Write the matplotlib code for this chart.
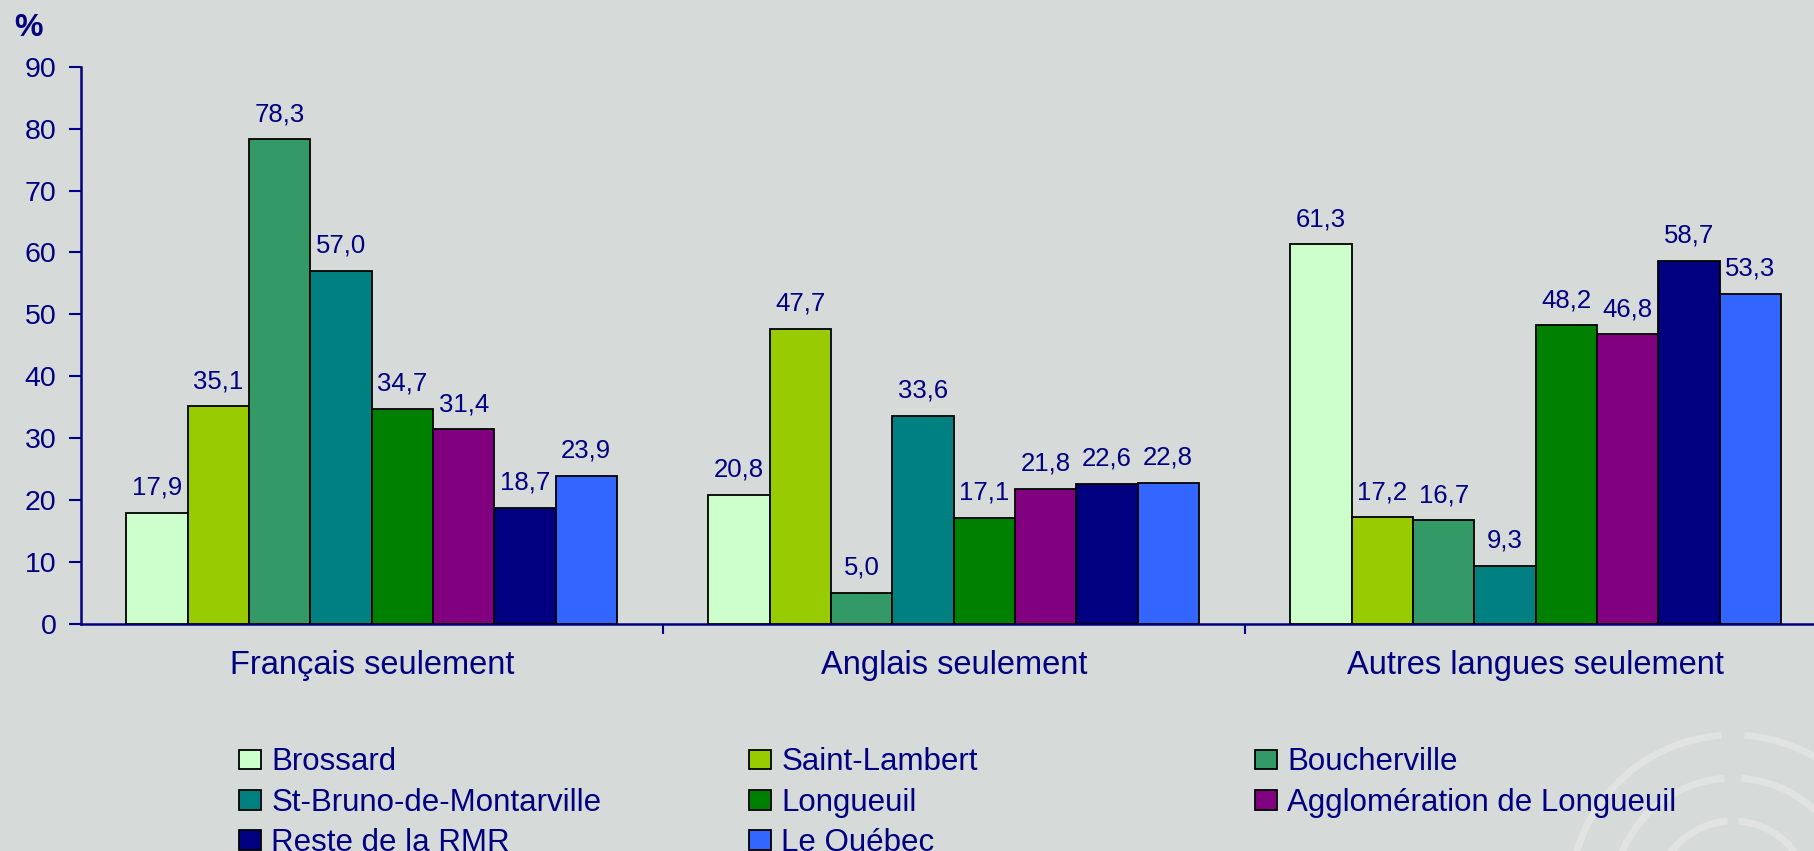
import numpy as np
import matplotlib
matplotlib.use("Agg")
import matplotlib.pyplot as plt
from matplotlib.patches import Arc
from matplotlib.transforms import IdentityTransform

plt.rcParams['font.family'] = ['Liberation Sans', 'DejaVu Sans']

categories = ["Français seulement", "Anglais seulement", "Autres langues seulement"]
series_names = ["Brossard", "Saint-Lambert", "Boucherville", "St-Bruno-de-Montarville",
                "Longueuil", "Agglomération de Longueuil", "Reste de la RMR", "Le Québec"]
brossard = [17.9, 20.8, 61.3]
saint_lambert = [35.1, 47.7, 17.2]
boucherville = [78.3, 5.0, 16.7]
st_bruno = [57.0, 33.6, 9.3]
longueuil = [34.7, 17.1, 48.2]
agglo = [31.4, 21.8, 46.8]
reste_rmr = [18.7, 22.6, 58.7]
quebec = [23.9, 22.8, 53.3]
series_values = [brossard, saint_lambert, boucherville, st_bruno,
                 longueuil, agglo, reste_rmr, quebec]
colors = ["#CCFFCC", "#99CC00", "#339966", "#008080",
          "#008000", "#800080", "#000080", "#3366FF"]
yticks = [0, 10, 20, 30, 40, 50, 60, 70, 80, 90]

BG = "#D6DAD9"
NAVY = "#000080"
W, H, DPI = 1815, 851, 100

fig = plt.figure(figsize=(W / DPI, H / DPI), dpi=DPI, facecolor=BG)

# faint background arcs (decoration)
for r in [163, 120, 77]:
    for t1, t2 in [(15, 86), (94, 175)]:
        fig.patches.append(Arc((1733, -47), 2 * r, 2 * r, theta1=t1, theta2=t2,
                               transform=IdentityTransform(), color="#E0E3E2",
                               lw=5, zorder=0))

left_px, right_px = 80.7, 1815
zero_px, top_px = 623.5, 67
ax = fig.add_axes([left_px / W, (H - zero_px) / H,
                   (right_px - left_px) / W, (zero_px - top_px) / H])
ax.set_facecolor(BG)
ax.patch.set_alpha(0)

group_w_px = 582
n = len(series_names)
bw = 61.3 / group_w_px
x = np.arange(len(categories))
offsets = (np.arange(n) - (n - 1) / 2) * bw

handles = []
for i, (name, vals, c) in enumerate(zip(series_names, series_values, colors)):
    bars = ax.bar(x + offsets[i], vals, width=bw, color=c, edgecolor="black",
                  linewidth=1.3, label=name, zorder=3)
    handles.append(bars)
    for xi, v in zip(x + offsets[i], vals):
        ax.annotate(f"{v:.1f}".replace(".", ","), (xi, v), xytext=(0, 13),
                    textcoords="offset points", ha="center", va="baseline",
                    fontsize=18.5, color=NAVY)

ax.set_xlim(-0.5, -0.5 + (right_px - left_px) / group_w_px)
ax.set_ylim(0, 90)
ax.set_yticks(yticks)
ax.set_yticklabels([str(t) for t in yticks])
ax.tick_params(axis="y", direction="out", length=8.6, width=1.5, color=NAVY,
               labelcolor=NAVY, labelsize=20.5, pad=9)

# category separators as major ticks, labels as minor ticks
ax.set_xticks([0.5, 1.5])
ax.set_xticklabels([])
ax.tick_params(axis="x", which="major", direction="out", length=7, width=1.5, color=NAVY)
ax.set_xticks(x, minor=True)
ax.set_xticklabels(categories, minor=True)
ax.tick_params(axis="x", which="minor", length=0, labelcolor=NAVY, labelsize=23.5, pad=19)

for s in ["top", "right"]:
    ax.spines[s].set_visible(False)
for s in ["left", "bottom"]:
    ax.spines[s].set_color(NAVY)
    ax.spines[s].set_linewidth(1.8)

fig.text(14 / W, (H - 36) / H, "%", fontsize=23, fontweight="bold", color=NAVY,
         ha="left", va="baseline")

# legend: three columns, filled row by row
col_x = [239, 749, 1255]
cols = [[0, 3, 6], [1, 4, 7], [2, 5]]
top_y = 747.5
for cx, idxs in zip(col_x, cols):
    leg = fig.legend([handles[i] for i in idxs], [series_names[i] for i in idxs],
                     loc="upper left", bbox_to_anchor=(cx / W, (H - top_y) / H),
                     frameon=False, fontsize=22.5, handlelength=0.7, handleheight=0.58,
                     handletextpad=0.33, labelspacing=0.33, borderpad=0,
                     borderaxespad=0, labelcolor=NAVY)

fig.savefig("out.png", dpi=DPI, facecolor=BG)
